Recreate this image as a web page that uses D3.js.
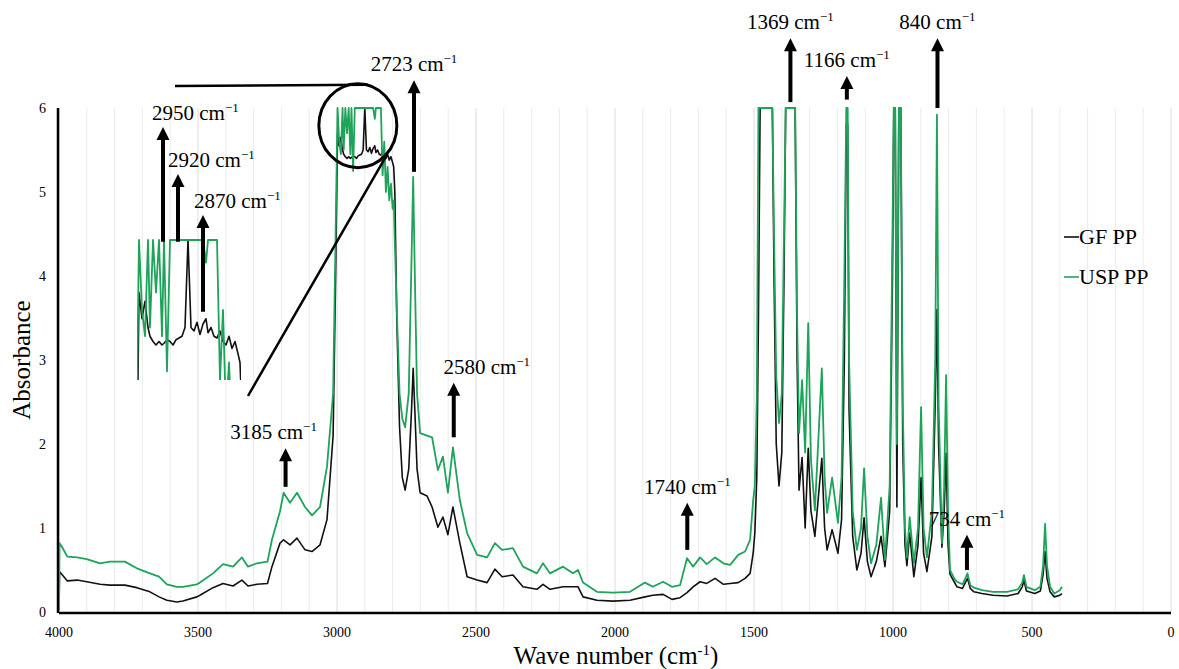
<!DOCTYPE html>
<html>
<head>
<meta charset="utf-8">
<script src="https://cdn.jsdelivr.net/npm/d3@7"></script>
<style>
	body { margin: 0; background: #fff; }
	svg { display: block; }
	svg text { font-family: "Liberation Serif", "Times New Roman", "DejaVu Serif", serif; }
</style>
</head>
<body>
<svg id="chart" width="1179" height="669"></svg>
<script>
'use strict';

// wave numbers (cm-1), shared by both spectra
var wavenumber = [
	4000, 3998, 3990, 3970, 3935, 3900, 3852, 3817, 3763, 3720, 3673, 3640, 3612, 3576, 3554, 3504, 3493, 3446, 3410, 3374,
	3342, 3320, 3288, 3250, 3234, 3205, 3192, 3169, 3144, 3115, 3090, 3061, 3036, 3014, 3005,
	2998, 2992, 2986, 2980, 2976, 2970, 2964, 2958, 2952, 2948, 2942, 2936, 2930, 2924, 2918, 2912, 2906, 2900, 2894, 2888,
	2882, 2876, 2870, 2864, 2860, 2854, 2848, 2842, 2836, 2830, 2824, 2818, 2812, 2806, 2800, 2796, 2792,
	2785, 2775, 2765, 2755, 2742, 2732, 2726, 2720, 2712, 2701, 2676, 2658, 2637, 2619, 2601, 2583, 2558, 2532, 2496,
	2460, 2432, 2406, 2367, 2331, 2281, 2259, 2234, 2187, 2151, 2133, 2115, 2065, 2007, 1946, 1892, 1864, 1827, 1795,
	1766, 1741, 1719, 1694, 1670, 1640, 1610, 1586, 1557, 1532, 1514, 1503, 1497, 1490, 1484, 1478, 1440, 1434, 1428,
	1420, 1410, 1400, 1392, 1386, 1352, 1345, 1338, 1327, 1316, 1305, 1295, 1281, 1256, 1246, 1237, 1219, 1198, 1185,
	1175, 1168, 1163, 1158, 1145, 1130, 1115, 1104, 1092, 1079, 1060, 1043, 1029, 1012, 1002, 997, 992, 986, 979,
	972, 965, 957, 950, 940, 925, 910, 899, 890, 878, 860, 848, 842, 836, 824, 816, 809, 802, 795,
	780, 770, 750, 740, 732, 722, 709, 680, 640, 590, 550, 535, 529, 520, 490, 470, 460, 453, 446,
	435, 420, 400, 392
];

// absorbance, GF PP (black)
var gfPP = [
	0.02, 0.48, 0.45, 0.37, 0.38, 0.36, 0.33, 0.32, 0.32, 0.29, 0.24, 0.18, 0.14, 0.12, 0.13, 0.18, 0.2, 0.29, 0.34, 0.31,
	0.38, 0.31, 0.33, 0.34, 0.54, 0.82, 0.86, 0.8, 0.88, 0.74, 0.72, 0.8, 1.1, 2.1, 4.0,
	5.7, 5.55, 5.65, 5.5, 5.45, 5.42, 5.4, 5.42, 5.4, 5.41, 5.43, 5.42, 5.4, 5.43, 5.44, 5.45, 5.5, 6, 5.5, 5.48,
	5.53, 5.46, 5.52, 5.55, 5.47, 5.5, 5.45, 5.44, 5.48, 5.42, 5.4, 5.45, 5.38, 5.42, 5.35, 5.3, 5.0,
	3.5, 2.2, 1.6, 1.45, 1.7, 2.4, 2.9, 2.4, 1.7, 1.42, 1.38, 1.25, 1.01, 1.13, 0.92, 1.25, 0.82, 0.42, 0.38,
	0.35, 0.51, 0.42, 0.44, 0.3, 0.27, 0.33, 0.27, 0.3, 0.3, 0.3, 0.18, 0.14, 0.13, 0.14, 0.18, 0.2, 0.21, 0.15,
	0.17, 0.23, 0.3, 0.36, 0.34, 0.4, 0.33, 0.34, 0.35, 0.4, 0.46, 0.7, 0.94, 1.6, 3.5, 6, 6, 6, 4.0,
	2.0, 1.5, 1.9, 4.0, 6, 6, 3.0, 1.45, 1.84, 1.0, 1.95, 1.2, 0.9, 1.83, 1.0, 0.74, 0.98, 0.7, 1.1,
	3.0, 5.8, 5.8, 2.4, 0.9, 0.5, 0.7, 1.12, 0.6, 0.42, 0.6, 0.9, 0.54, 1.2, 4.0, 6, 6, 1.25, 6,
	6, 2.0, 0.8, 0.55, 0.94, 0.42, 0.8, 1.6, 0.7, 0.48, 0.9, 2.5, 3.6, 2.0, 0.77, 1.2, 1.89, 0.8, 0.45,
	0.36, 0.3, 0.28, 0.35, 0.4, 0.28, 0.24, 0.22, 0.2, 0.19, 0.22, 0.3, 0.38, 0.25, 0.22, 0.25, 0.45, 0.72, 0.4,
	0.24, 0.18, 0.2, 0.22
];

// absorbance, USP PP (green)
var uspPP = [
	0.02, 0.82, 0.78, 0.66, 0.65, 0.63, 0.58, 0.6, 0.6, 0.52, 0.46, 0.42, 0.33, 0.3, 0.3, 0.33, 0.35, 0.46, 0.57, 0.54,
	0.65, 0.54, 0.58, 0.6, 0.86, 1.2, 1.42, 1.3, 1.42, 1.25, 1.15, 1.25, 1.73, 2.6, 4.5,
	6, 5.6, 5.45, 6, 5.5, 6, 5.7, 6, 5.45, 6, 5.25, 6, 6, 6, 6, 6, 6, 6, 6, 6,
	6, 6, 6, 5.87, 6, 6, 6, 6, 5.2, 5.6, 5.0, 5.3, 4.9, 5.1, 4.8, 4.9, 4.4,
	3.6, 2.6, 2.3, 2.2, 2.6, 4.2, 5.18, 4.0, 2.6, 2.13, 2.1, 2.08, 1.69, 1.85, 1.42, 1.96, 1.33, 0.94, 0.68,
	0.65, 0.82, 0.74, 0.76, 0.54, 0.46, 0.58, 0.46, 0.54, 0.46, 0.5, 0.35, 0.24, 0.23, 0.24, 0.35, 0.3, 0.36, 0.3,
	0.32, 0.64, 0.54, 0.65, 0.57, 0.65, 0.58, 0.56, 0.68, 0.72, 0.86, 1.33, 1.5, 2.52, 6, 6, 6, 6, 4.5,
	2.8, 2.25, 2.6, 4.5, 6, 6, 3.5, 2.13, 2.76, 1.9, 3.44, 1.8, 1.21, 2.9, 1.6, 1.18, 1.6, 1.06, 1.6,
	4.0, 6, 6, 3.0, 1.2, 0.74, 1.0, 1.71, 0.9, 0.58, 0.8, 1.36, 0.62, 1.5, 4.5, 6, 6, 2.0, 6,
	6, 2.5, 1.0, 0.65, 1.13, 0.58, 1.0, 2.44, 1.0, 0.65, 1.2, 3.0, 5.92, 2.5, 0.82, 1.5, 2.82, 1.2, 0.5,
	0.4, 0.36, 0.33, 0.4, 0.46, 0.32, 0.29, 0.26, 0.24, 0.24, 0.27, 0.35, 0.44, 0.3, 0.26, 0.3, 0.55, 1.05, 0.55,
	0.3, 0.22, 0.26, 0.3
];

var seriesNames = ['GF PP', 'USP PP'];
var seriesColors = ['#111111', '#1ea35a'];

var xTicks = [4000, 3500, 3000, 2500, 2000, 1500, 1000, 500, 0];
var yTicks = [0, 1, 2, 3, 4, 5, 6];

// labelled peaks: wave number, arrow tail and tip (absorbance units)
var peakLabels = ['3185', '2723', '2580', '1740', '1369', '1166', '840', '734'];
var peakTail =   [1.49, 5.24, 2.08, 0.74, 6.07, 6.1, 6.0, 0.5];
var peakTip =    [1.95, 6.33, 2.73, 1.3, 6.83, 6.38, 6.83, 0.92];

// peaks marked in the zoomed inset (inset absorbance units)
var insetLabels = ['2950', '2920', '2870'];
var insetTail =   [5.99, 5.99, 5.59];
var insetTip =    [6.646, 6.377, 6.143];

if (gfPP.length !== wavenumber.length || uspPP.length !== wavenumber.length)
	console.log('length mismatch', wavenumber.length, gfPP.length, uspPP.length);

var svg = d3.select('#chart');

var x = d3.scaleLinear().domain([4000, 0]).range([59, 1171]);
var y = d3.scaleLinear().domain([0, 6]).range([612, 108]);

var data = wavenumber.map(function(w, i) {
	return {wn: w, v: [gfPP[i], uspPP[i]]};
});

// vertical grid every 100 cm-1
svg.append('g')
	.selectAll('line')
	.data(d3.range(0, 4001, 100))
	.enter()
	.append('line')
		.attr('x1', function(d) { return x(d); })
		.attr('x2', function(d) { return x(d); })
		.attr('y1', y(6))
		.attr('y2', y(0))
		.attr('stroke', function(d) { return d % 500 === 0 ? '#dcdcdc' : '#ececec'; })
		.attr('stroke-width', 1)
	;

// axes
svg.append('line')
	.attr('x1', x(4000)).attr('x2', x(0))
	.attr('y1', y(0) + 1).attr('y2', y(0) + 1)
	.attr('stroke', '#000').attr('stroke-width', 2.5)
	;
svg.append('line')
	.attr('x1', x(4000) - 1).attr('x2', x(4000) - 1)
	.attr('y1', y(6)).attr('y2', y(0) + 1)
	.attr('stroke', '#000').attr('stroke-width', 2.5)
	;

var defs = svg.append('defs');
defs.append('clipPath')
		.attr('id', 'plotclip')
	.append('rect')
		.attr('x', x(4000))
		.attr('y', y(6) - 1)
		.attr('width', x(0) - x(4000))
		.attr('height', y(0) - y(6) + 1)
	;

function drawSpectra(g, sx, sy) {
	[0, 1].forEach(function(k) {
		g.append('path')
			.datum(data)
			.attr('fill', 'none')
			.attr('stroke', seriesColors[k])
			.attr('stroke-width', k === 1 ? 1.8 : 1.6)
			.attr('stroke-linejoin', 'round')
			.attr('d', d3.line()
				.x(function(d) { return sx(d.wn); })
				.y(function(d) { return sy(d.v[k]); })
			)
			;
	});
}

drawSpectra(svg.append('g').attr('clip-path', 'url(#plotclip)'), x, y);

svg.append('g')
	.selectAll('text')
	.data(xTicks)
	.enter()
	.append('text')
		.attr('x', function(d) { return x(d); })
		.attr('y', 637)
		.attr('text-anchor', 'middle')
		.attr('font-size', 14)
		.text(function(d) { return d; })
	;
svg.append('g')
	.selectAll('text')
	.data(yTicks)
	.enter()
	.append('text')
		.attr('x', 46)
		.attr('y', function(d) { return y(d) + 5; })
		.attr('text-anchor', 'end')
		.attr('font-size', 14)
		.text(function(d) { return d; })
	;

svg.append('text')
	.attr('transform', 'translate(30 360) rotate(-90)')
	.attr('text-anchor', 'middle')
	.attr('font-size', 25)
	.text('Absorbance')
	;
var xt = svg.append('text')
	.attr('x', 616)
	.attr('y', 664)
	.attr('text-anchor', 'middle')
	.attr('font-size', 25)
	;
xt.append('tspan').text('Wave number (cm');
xt.append('tspan').attr('font-size', 15).attr('dy', -9).text('-1');
xt.append('tspan').attr('dy', 9).text(')');

// legend
seriesNames.forEach(function(name, k) {
	var ly = 244 + k * 40;
	svg.append('line')
		.attr('x1', 1064).attr('x2', 1079)
		.attr('y1', ly - 7).attr('y2', ly - 7)
		.attr('stroke', seriesColors[k]).attr('stroke-width', 1.6)
		;
	svg.append('text')
		.attr('x', 1079)
		.attr('y', ly)
		.attr('font-size', 22)
		.text(name)
		;
});

// arrows with wave number labels
function arrow(ax, yTail, yTip) {
	svg.append('line')
		.attr('x1', ax).attr('x2', ax)
		.attr('y1', yTail).attr('y2', yTip + 12)
		.attr('stroke', '#000').attr('stroke-width', 4)
		;
	svg.append('path')
		.attr('d', 'M' + (ax - 6.5) + ',' + (yTip + 13) + 'L' + ax + ',' + yTip + 'L' + (ax + 6.5) + ',' + (yTip + 13) + 'Z')
		.attr('fill', '#000')
		;
}
function waveLabel(lx, ly, label, anchor) {
	var t = svg.append('text')
		.attr('x', lx)
		.attr('y', ly)
		.attr('text-anchor', anchor)
		.attr('font-size', 21)
		;
	t.append('tspan').text(label + ' cm');
	t.append('tspan').attr('font-size', 13).attr('dy', -8).text('\u22121');
}

var labelShift = {'3185': -12, '2580': 33};
peakLabels.forEach(function(p, i) {
	var ax = x(+p);
	arrow(ax, y(peakTail[i]), y(peakTip[i]));
	waveLabel(ax + (labelShift[p] || 0), y(peakTip[i]) - 9, p, 'middle');
});

// zoom circle and connectors
var cx = x(2925), cy = y(5.79);
svg.append('ellipse')
	.attr('cx', cx).attr('cy', cy)
	.attr('rx', 39).attr('ry', 42)
	.attr('fill', 'none').attr('stroke', '#000').attr('stroke-width', 3)
	;
svg.append('line')
	.attr('x1', 175).attr('y1', 86).attr('x2', cx + 10).attr('y2', cy - 41)
	.attr('stroke', '#000').attr('stroke-width', 2.5)
	;
svg.append('line')
	.attr('x1', cx + 28).attr('y1', cy + 31).attr('x2', 248).attr('y2', 396)
	.attr('stroke', '#000').attr('stroke-width', 2.5)
	;

// inset: magnified 3006-2790 cm-1
var ix = d3.scaleLinear().domain([3006, 2790]).range([135, 243]);
var iy = d3.scaleLinear().domain([5.2, 6]).range([380, 240]);
defs.append('clipPath')
		.attr('id', 'insetclip')
	.append('rect')
		.attr('x', 137).attr('y', 239)
		.attr('width', 104).attr('height', 141)
	;
drawSpectra(svg.append('g').attr('clip-path', 'url(#insetclip)'), ix, iy);

var insetTextShift = [-11, -10, -9];
insetLabels.forEach(function(p, i) {
	var ax = ix(+p);
	arrow(ax, iy(insetTail[i]), iy(insetTip[i]));
	waveLabel(ax + insetTextShift[i], iy(insetTip[i]) - 7, p, 'start');
});
</script>
</body>
</html>
